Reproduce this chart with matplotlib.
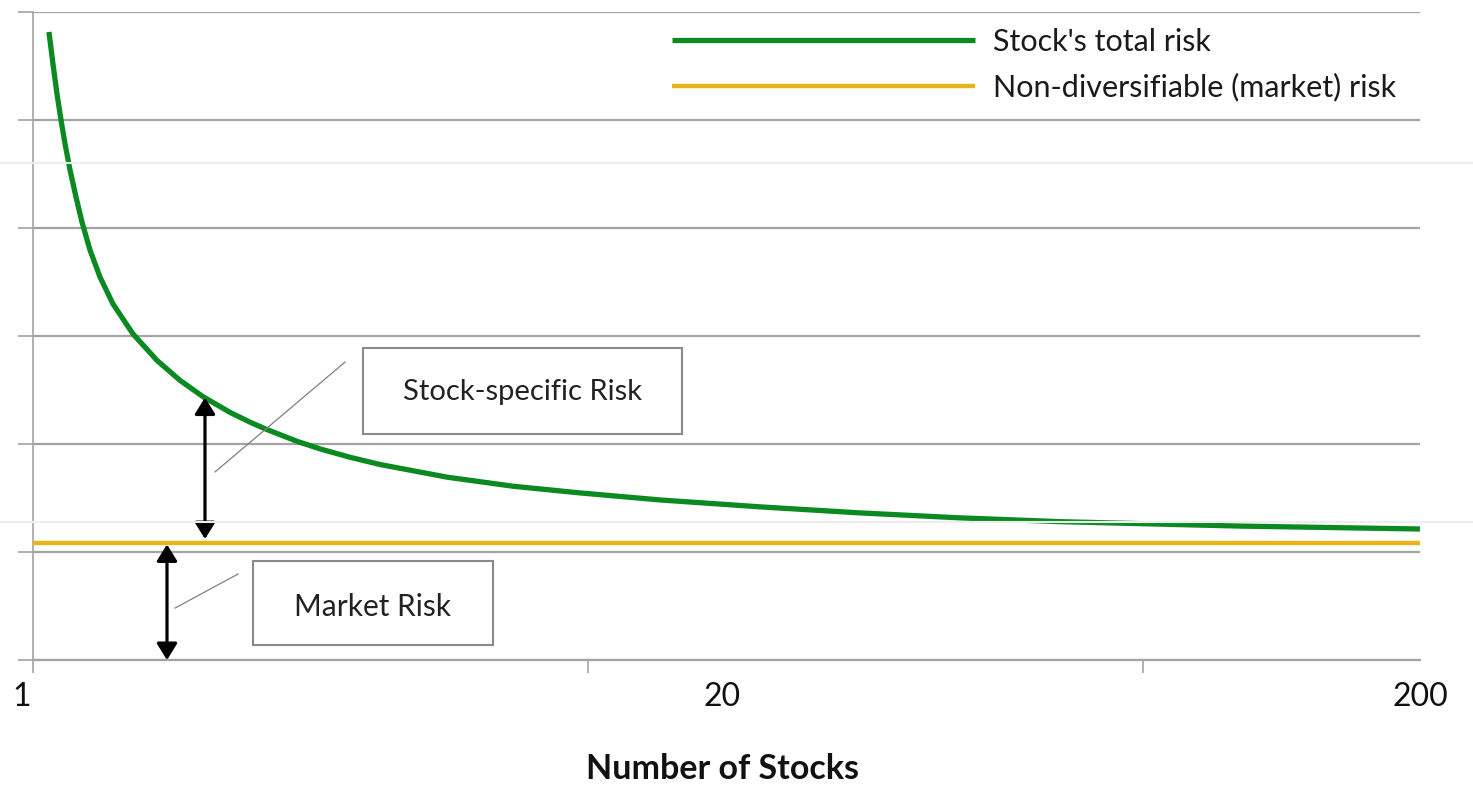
import matplotlib
matplotlib.use("Agg")
import matplotlib.pyplot as plt
from matplotlib.lines import Line2D
from matplotlib.patches import Rectangle

plt.rcParams['font.family'] = ['Lato', 'DejaVu Sans']

# ---- data (x = position along the axis, 0..1; y = risk units) ----
pos_total = [0.0115, 0.0144, 0.0173, 0.0202, 0.0231, 0.0267, 0.0310, 0.0353,
             0.0411, 0.0483, 0.0577, 0.0721, 0.0894, 0.1060, 0.1226, 0.1420,
             0.1565, 0.1673, 0.1903, 0.2069, 0.2286, 0.2502, 0.2985, 0.3461,
             0.3944, 0.4521, 0.5242, 0.5963, 0.6684, 0.7405, 0.8702, 1.0]
total_risk = [5.815, 5.519, 5.241, 5.000, 4.778, 4.537, 4.287, 4.056,
              3.796, 3.546, 3.296, 3.019, 2.774, 2.589, 2.438, 2.293,
              2.202, 2.141, 2.025, 1.955, 1.877, 1.810, 1.693, 1.609,
              1.547, 1.482, 1.418, 1.362, 1.316, 1.281, 1.240, 1.213]
pos_market = [0.0, 1.0]
market_risk = [1.083, 1.083]

tick_positions = [0.0, 0.4, 0.8]
tick_labels = ['1', '20', '200']
tick_label_pos = [-0.008, 0.497, 1.0]

series_names = ["Stock's total risk", "Non-diversifiable (market) risk"]
green = '#0b8a22'
gold = '#e8b417'
grid_c = '#a3a3a3'

W, H = 1473, 792
fig = plt.figure(figsize=(W / 100, H / 100), dpi=100)
ax = fig.add_axes([33 / W, 1 - 660 / H, (1420 - 33) / W, (660 - 12) / H])
ax.set_xlim(0, 1)
ax.set_ylim(0, 6)

# faint background bands of the original image
for yy in (163, 522):
    fig.add_artist(Line2D([0, 1], [1 - yy / H, 1 - yy / H], color='#eeeeee', lw=1.5,
                          transform=fig.transFigure))

# grid
ax.set_yticks(range(0, 7))
ax.yaxis.grid(True, color=grid_c, lw=1.6)
ax.set_yticklabels([])
ax.tick_params(axis='y', length=11, width=1.2, color=grid_c, direction='out')
ax.set_xticks(tick_positions)
ax.set_xticklabels([])
ax.tick_params(axis='x', length=9, width=1.2, color=grid_c, direction='out')
for s in ('top', 'right'):
    ax.spines[s].set_visible(False)
ax.spines['left'].set_color(grid_c)
ax.spines['left'].set_linewidth(1.2)
ax.spines['bottom'].set_color(grid_c)
ax.spines['bottom'].set_linewidth(1.6)
ax.set_axisbelow(True)

l1, = ax.plot(pos_total, total_risk, color=green, lw=3.8, solid_capstyle='butt',
              solid_joinstyle='round', label=series_names[0], zorder=4)
l2, = ax.plot(pos_market, market_risk, color=gold, lw=3.2, solid_capstyle='butt',
              label=series_names[1], zorder=3)

leg = ax.legend(handles=[l1, l2], loc='upper left', bbox_to_anchor=(672 / W, 1 - 28 / H),
                bbox_transform=fig.transFigure, frameon=False, fontsize=22,
                handlelength=9.9, handletextpad=0.59, labelspacing=0.56,
                borderpad=0, borderaxespad=0)
for t in leg.get_texts():
    t.set_color('#1a1a1a')

# tick labels
for p, lab in zip(tick_label_pos, tick_labels):
    ax.text(p, -0.343, lab, ha='center', va='center', fontsize=23, color='#111111',
            clip_on=False)
ax.text(0.4968, -1.005, 'Number of Stocks', ha='center', va='center', fontsize=24.5,
        fontweight='bold', color='#111111', clip_on=False)

# annotations
arrow_kw = dict(arrowstyle='<|-|>,head_length=1.0,head_width=0.62', color='black', lw=2.3,
                shrinkA=0, shrinkB=0)
ax.annotate('', xy=(0.124, 2.43), xytext=(0.124, 1.12), arrowprops=arrow_kw, zorder=6)
ax.annotate('', xy=(0.0966, 1.07), xytext=(0.0966, 0.0), arrowprops=arrow_kw, zorder=6)

ax.plot([0.1312, 0.225], [1.741, 2.759], color='#7f7f7f', lw=0.9, zorder=5)
ax.plot([0.1024, 0.1478], [0.481, 0.796], color='#7f7f7f', lw=0.9, zorder=5)

ax.add_patch(Rectangle((0.2379, 2.093), 0.230, 0.796, facecolor='white',
                       edgecolor='#8a8a8a', lw=1.5, zorder=6))
ax.text(0.3526, 2.48, 'Stock-specific Risk', ha='center', va='center', fontsize=21,
        color='#222222', zorder=7)
ax.add_patch(Rectangle((0.1586, 0.139), 0.173, 0.778, facecolor='white',
                       edgecolor='#8a8a8a', lw=1.5, zorder=6))
ax.text(0.2451, 0.49, 'Market Risk', ha='center', va='center', fontsize=21.5,
        color='#222222', zorder=7)

fig.savefig('out.png', dpi=100)
